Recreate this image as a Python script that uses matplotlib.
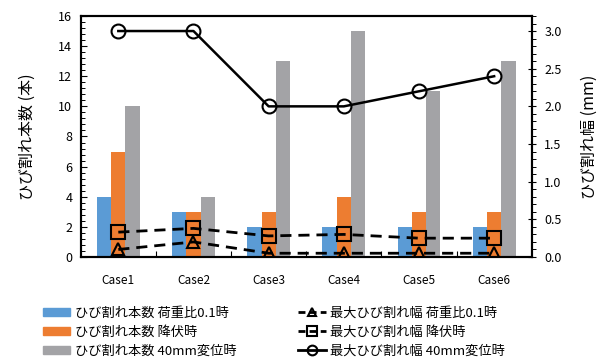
import numpy as np
import matplotlib.pyplot as plt
from matplotlib.ticker import MultipleLocator
from matplotlib.lines import Line2D
from matplotlib.patches import Patch

plt.rcParams['font.family'] = ['Noto Sans CJK JP', 'DejaVu Sans']

cases = ['Case1', 'Case2', 'Case3', 'Case4', 'Case5', 'Case6']

# crack counts
n_01 = [4, 3, 2, 2, 2, 2]
n_yield = [7, 3, 3, 4, 3, 3]
n_40 = [10, 4, 13, 15, 11, 13]

# maximum crack width (mm)
w_01 = [0.1, 0.2, 0.05, 0.05, 0.05, 0.05]
w_yield = [0.33, 0.38, 0.28, 0.30, 0.25, 0.25]
w_40 = [3.0, 3.0, 2.0, 2.0, 2.2, 2.4]

lab_n01 = 'ひび割れ本数 荷重比0.1時'
lab_ny = 'ひび割れ本数 降伏時'
lab_n40 = 'ひび割れ本数 40mm変位時'
lab_w01 = '最大ひび割れ幅 荷重比0.1時'
lab_wy = '最大ひび割れ幅 降伏時'
lab_w40 = '最大ひび割れ幅 40mm変位時'

c_blue, c_orange, c_gray = '#5B9BD5', '#ED7D31', '#A3A3A6'
dash = (0, (4, 2.5))

fig = plt.figure(figsize=(6.07, 3.63), dpi=100)
ax = fig.add_axes([0.133, 0.292, 0.743, 0.664])
ax2 = ax.twinx()

x = np.arange(len(cases))
bw = 0.19
ax.bar(x - bw, n_01, bw, color=c_blue)
ax.bar(x, n_yield, bw, color=c_orange)
ax.bar(x + bw, n_40, bw, color=c_gray)

ax.set_xlim(-0.5, len(cases) - 0.5)
ax.set_ylim(0, 16)
ax.set_xticks(x)
ax.set_xticklabels(cases)
ax.set_xticks(np.arange(0.5, len(cases) - 0.5), minor=True)
ax.yaxis.set_major_locator(MultipleLocator(2))
ax.yaxis.set_minor_locator(MultipleLocator(0.4))
ax.tick_params(axis='x', which='major', length=0, pad=12, labelsize=8.5)
ax.tick_params(axis='x', which='minor', direction='in', length=4, width=0.8)
ax.tick_params(axis='y', which='major', direction='in', length=4, labelsize=9, pad=6)
ax.tick_params(axis='y', which='minor', direction='in', length=3, width=0.7)
ax.set_ylabel('ひび割れ本数 (本)', fontsize=11.5, labelpad=16)

ax2.plot(x, w_01, color='black', ls=dash, lw=2, marker='^', ms=9,
         mfc='none', mec='black', mew=1.5)
ax2.plot(x, w_yield, color='black', ls=dash, lw=2, marker='s', ms=10,
         mfc='none', mec='black', mew=1.5)
ax2.plot(x, w_40, color='black', lw=1.8, marker='o', ms=10,
         mfc='none', mec='black', mew=1.5)
ax2.set_ylim(0, 3.2)
ax2.set_yticks(np.arange(0, 3.01, 0.5))
ax2.yaxis.set_minor_locator(MultipleLocator(0.1))
ax2.tick_params(axis='y', which='major', direction='inout', length=6, labelsize=9, pad=6)
ax2.tick_params(axis='y', which='minor', direction='out', length=3, width=0.7)
ax2.set_yticklabels(['%.1f' % v for v in np.arange(0, 3.01, 0.5)])
ax2.set_ylabel('ひび割れ幅 (mm)', fontsize=11.5, labelpad=14)

for a in (ax, ax2):
    for s in a.spines.values():
        s.set_linewidth(1.5)

# legend proxies with smaller markers
handles = [
    Patch(color=c_blue, label=lab_n01),
    Patch(color=c_orange, label=lab_ny),
    Patch(color=c_gray, label=lab_n40),
    Line2D([], [], color='black', ls=(0, (2.5, 1.5)), lw=2, marker='^', ms=6,
           mfc='none', mec='black', mew=1.5, label=lab_w01),
    Line2D([], [], color='black', ls=(0, (2.5, 1.5)), lw=2, marker='s', ms=7,
           mfc='none', mec='black', mew=1.5, label=lab_wy),
    Line2D([], [], color='black', lw=2, marker='o', ms=7,
           mfc='none', mec='black', mew=1.5, label=lab_w40),
]
fig.legend(handles, [h.get_label() for h in handles], loc='upper left',
           bbox_to_anchor=(36 / 607, 1 - 300 / 363), ncol=2, frameon=False,
           fontsize=9.5, borderpad=0, columnspacing=4.65, handlelength=2.1,
           handleheight=0.55, handletextpad=0.35, labelspacing=0.45)

fig.savefig('out.png', dpi=100)
